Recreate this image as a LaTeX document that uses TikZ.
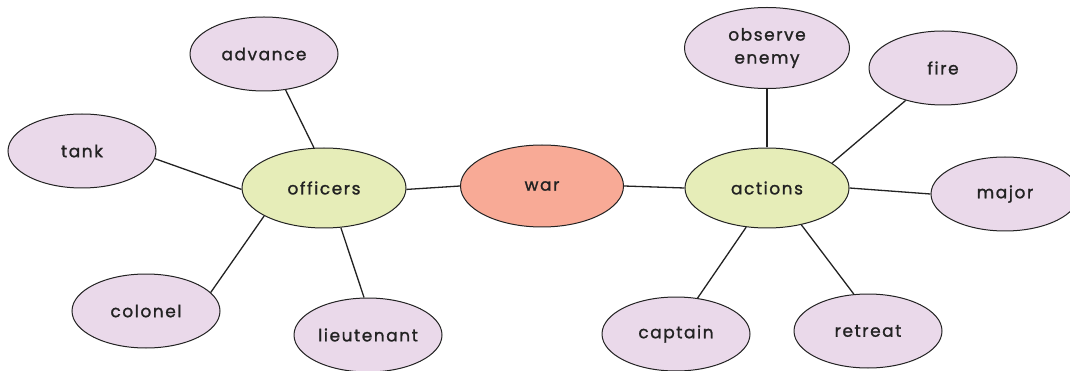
\documentclass[tikz,border=0pt]{standalone}
\usepackage{fontspec}
\setmainfont{Poppins}[LetterSpace=9, FakeBold=1.2]
\usetikzlibrary{shapes.geometric}
\definecolor{leaf}{HTML}{EAD9EA}
\definecolor{mid}{HTML}{E6EDB8}
\definecolor{hub}{HTML}{F8AA96}
\definecolor{ink}{HTML}{222222}
\tikzset{
  bub/.style={ellipse, draw=ink, line width=1pt, inner sep=0pt, font=\fontsize{17}{18}\selectfont, text=ink, align=center},
  leafnode/.style={bub, fill=leaf, minimum width=148pt, minimum height=74pt},
  midnode/.style={bub, fill=mid, minimum width=164pt, minimum height=80pt},
  hubnode/.style={bub, fill=hub, minimum width=163pt, minimum height=82pt},
  link/.style={draw=ink, line width=1.3pt}
}
\begin{document}
\begin{tikzpicture}[x=1pt,y=-1pt]
\useasboundingbox (0,0) rectangle (1070,371);
\node[hubnode] (war) at (542,186) {war};
\node[midnode] (off) at (324,188) {officers};
\node[midnode] (act) at (767,188) {actions};
\node[leafnode] (adv) at (264,54) {advance};
\node[leafnode] (tank) at (82,151) {tank};
\node[leafnode] (col) at (146,311) {colonel};
\node[leafnode] (lt) at (368,335) {lieutenant};
\node[leafnode, minimum width=165pt, minimum height=81pt] (obs) at (767,48) {observe\\[5pt]enemy};
\node[leafnode] (fire) at (943,68) {fire};
\node[leafnode] (maj) at (1005,194) {major};
\node[leafnode] (cap) at (676,334) {captain};
\node[leafnode] (ret) at (868,331) {retreat};
\draw[link] (war.180.7) -- (off.-1.4);
\draw[link] (war.0) -- (act.180.7);
\draw[link] (off.104.7) -- (adv.301.2);
\draw[link] (off.181.4) -- (tank.-6.9);
\draw[link] (off.205.8) -- (col.16);
\draw[link] (off.293.8) -- (lt.96.5);
\draw[link] (act.90) -- (obs.270);
\draw[link] (act.21.8) -- (fire.221);
\draw[link] (act.-0.7) -- (maj.180);
\draw[link] (act.242.4) -- (cap.59.5);
\draw[link] (act.313.5) -- (ret.111.8);
\end{tikzpicture}
\end{document}
